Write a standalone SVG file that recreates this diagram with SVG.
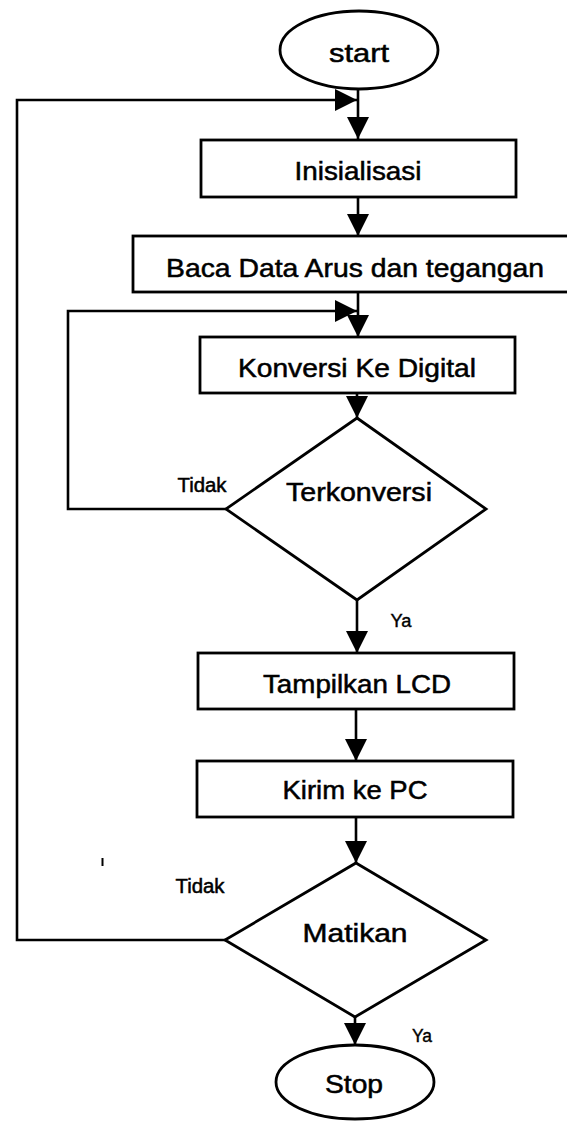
<svg xmlns="http://www.w3.org/2000/svg" width="567" height="1122" viewBox="0 0 567 1122">
<defs>
<style>
.shape{fill:#fff;stroke:#000;stroke-width:2.8}
.line{fill:none;stroke:#000;stroke-width:2.6}
.lbl{font-family:"Liberation Sans",Arial,sans-serif;font-size:25px;fill:#000;stroke:#000;stroke-width:0.5;text-anchor:middle}
.small{font-family:"Liberation Sans",Arial,sans-serif;font-size:20px;fill:#000;stroke:#000;stroke-width:0.5;text-anchor:middle}
.ya{font-family:"Liberation Sans",Arial,sans-serif;font-size:18px;fill:#000;stroke:#000;stroke-width:0.4;text-anchor:middle}
</style>
<marker id="arr" markerUnits="userSpaceOnUse" markerWidth="22" markerHeight="22" viewBox="0 0 20 20" refX="20" refY="10" orient="auto">
<path d="M0,0 L20,10 L0,20 Z" fill="#000"/>
</marker>
</defs>
<rect width="567" height="1122" fill="#fff"/>
<g id="connectors">
<path class="line" d="M358,89 L358,139" marker-end="url(#arr)"/>
<path class="line" d="M226,940 L17,940 L17,100 L357,100" marker-end="url(#arr)"/>
<path class="line" d="M358,197 L358,236" marker-end="url(#arr)"/>
<path class="line" d="M358,292 L358,337" marker-end="url(#arr)"/>
<path class="line" d="M226,509 L68,509 L68,311 L357,311" marker-end="url(#arr)"/>
<path class="line" d="M357,393 L357,418" marker-end="url(#arr)"/>
<path class="line" d="M357,600 L357,653" marker-end="url(#arr)"/>
<path class="line" d="M356,709 L356,761" marker-end="url(#arr)"/>
<path class="line" d="M356,817 L356,863" marker-end="url(#arr)"/>
<path class="line" d="M355,1017 L355,1045" marker-end="url(#arr)"/>
<text class="small" x="202" y="492" textLength="49" lengthAdjust="spacingAndGlyphs">Tidak</text>
<text class="ya" x="401" y="627" textLength="21" lengthAdjust="spacingAndGlyphs">Ya</text>
<text class="small" x="200" y="893" textLength="49" lengthAdjust="spacingAndGlyphs">Tidak</text>
<text class="ya" x="422" y="1042" textLength="20" lengthAdjust="spacingAndGlyphs">Ya</text>
<path d="M102.5,858 L102.5,866" stroke="#000" stroke-width="2"/>
</g>
<g id="start">
<ellipse class="shape" cx="359" cy="50" rx="79" ry="39"/>
<text class="lbl" x="359" y="62" textLength="60" lengthAdjust="spacingAndGlyphs">start</text>
</g>
<g id="inisialisasi">
<rect class="shape" x="201" y="140" width="315" height="57"/>
<text class="lbl" x="358" y="180" textLength="127" lengthAdjust="spacingAndGlyphs">Inisialisasi</text>
</g>
<g id="baca">
<rect class="shape" x="133" y="236" width="440" height="56"/>
<text class="lbl" x="355" y="277" textLength="378" lengthAdjust="spacingAndGlyphs">Baca Data Arus dan tegangan</text>
</g>
<g id="konversi">
<rect class="shape" x="200" y="337" width="315" height="56"/>
<text class="lbl" x="357" y="377" textLength="238" lengthAdjust="spacingAndGlyphs">Konversi Ke Digital</text>
</g>
<g id="terkonversi">
<polygon class="shape" points="357,418 486,509 357,600 226,509"/>
<text class="lbl" x="359" y="501" textLength="146" lengthAdjust="spacingAndGlyphs">Terkonversi</text>
</g>
<g id="tampilkan">
<rect class="shape" x="198" y="653" width="316" height="56"/>
<text class="lbl" x="357" y="693" textLength="188" lengthAdjust="spacingAndGlyphs">Tampilkan LCD</text>
</g>
<g id="kirim">
<rect class="shape" x="197" y="761" width="316" height="56"/>
<text class="lbl" x="355" y="799" textLength="145" lengthAdjust="spacingAndGlyphs">Kirim ke PC</text>
</g>
<g id="matikan">
<polygon class="shape" points="356,863 486,940 355,1017 225,940"/>
<text class="lbl" x="355" y="942" textLength="105" lengthAdjust="spacingAndGlyphs">Matikan</text>
</g>
<g id="stop">
<ellipse class="shape" cx="355" cy="1082" rx="79" ry="37"/>
<text class="lbl" x="354" y="1093" textLength="58" lengthAdjust="spacingAndGlyphs">Stop</text>
</g>
</svg>
